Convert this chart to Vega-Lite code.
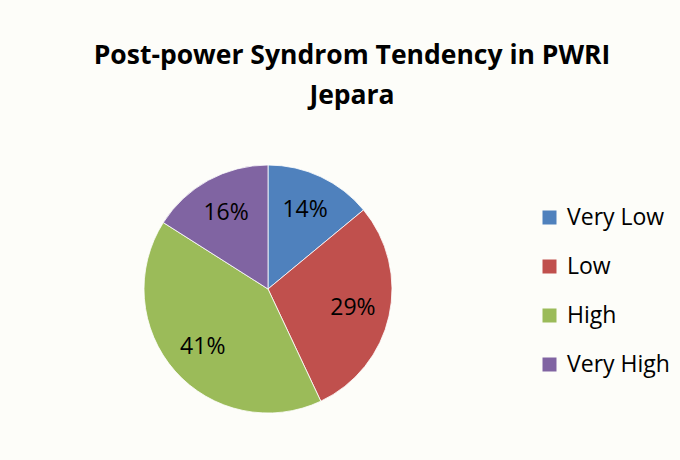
{
  "$schema": "https://vega.github.io/schema/vega-lite/v6.json",
  "width": 248,
  "height": 248,
  "autosize": {"type": "none"},
  "padding": {"left": 144, "top": 165, "right": 288, "bottom": 47},
  "background": "#fdfdf9",
  "title": {
    "text": ["Post-power Syndrom Tendency in PWRI", "Jepara"],
    "font": "Open Sans",
    "fontSize": 26.5,
    "fontWeight": "bold",
    "color": "#000000",
    "anchor": "middle",
    "dx": 84,
    "offset": 54,
    "lineHeight": 40
  },
  "data": {
    "values": [
      {"category": "Very Low", "value": 14, "label": "14%", "idx": 1},
      {"category": "Low", "value": 29, "label": "29%", "idx": 2},
      {"category": "High", "value": 41, "label": "41%", "idx": 3},
      {"category": "Very High", "value": 16, "label": "16%", "idx": 4}
    ]
  },
  "encoding": {
    "theta": {"field": "value", "type": "quantitative", "stack": true},
    "order": {"field": "idx", "type": "quantitative"}
  },
  "layer": [
    {
      "mark": {"type": "arc", "outerRadius": 124, "stroke": "#ffffff", "strokeWidth": 0.8},
      "encoding": {
        "color": {
          "field": "category",
          "type": "nominal",
          "scale": {
            "domain": ["Very Low", "Low", "High", "Very High"],
            "range": ["#4F81BD", "#C0504D", "#9BBB59", "#8064A2"]
          },
          "legend": {
            "title": null,
            "orient": "none",
            "legendX": 394,
            "legendY": 41,
            "padding": 0,
            "symbolType": "square",
            "symbolSize": 196,
            "symbolStrokeWidth": 0,
            "labelFont": "Open Sans",
            "labelFontSize": 23,
            "labelColor": "#000000",
            "labelOffset": 6,
            "rowPadding": 25
          }
        }
      }
    },
    {
      "mark": {"type": "text", "radius": 87, "font": "Open Sans", "fontSize": 23, "color": "#000000"},
      "encoding": {
        "detail": {"field": "category", "type": "nominal"},
        "text": {"field": "label", "type": "nominal"}
      }
    }
  ]
}
